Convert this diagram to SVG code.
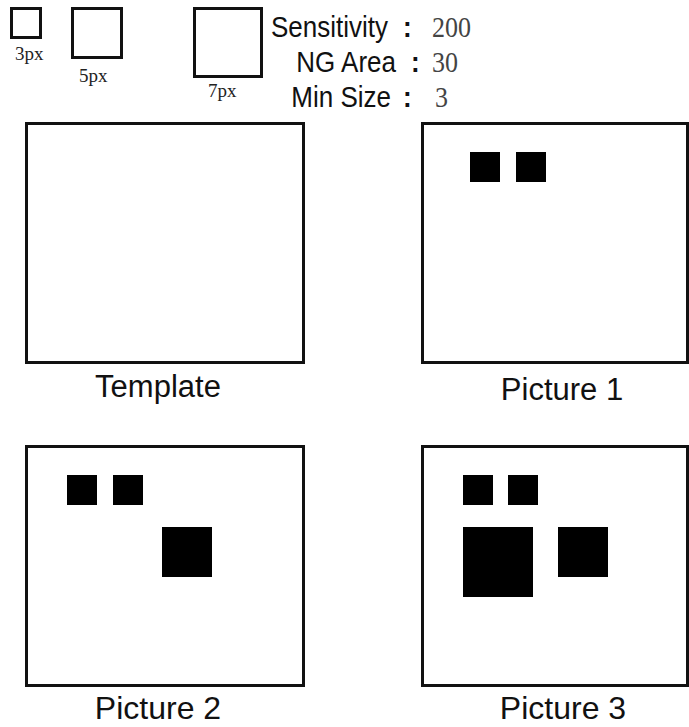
<svg xmlns="http://www.w3.org/2000/svg" width="689" height="727" viewBox="0 0 689 727">
  <style>
    .frame { fill: #fff; stroke: #111; stroke-width: 3; }
    .legend-box { fill: #fff; stroke: #111; stroke-width: 3; }
    .blob { fill: #000; }
    .size-label { font-family: "Liberation Serif", "Times New Roman", serif; font-size: 19px; fill: #222; }
    .param-name { font-family: "Liberation Sans", Arial, sans-serif; font-size: 26px; fill: #111; text-anchor: end; }
    .param-colon { font-family: "Liberation Sans", Arial, sans-serif; font-size: 26px; font-weight: bold; fill: #111; }
    .param-value { font-family: "Liberation Serif", "Times New Roman", serif; font-size: 26px; fill: #444; }
    .caption { font-family: "Liberation Sans", Arial, sans-serif; fill: #111; text-anchor: middle; }
  </style>

  <rect width="689" height="727" fill="#fff"/>

  <!-- size legend -->
  <g id="legend-3px">
    <rect class="legend-box" x="11.5" y="8.5" width="29" height="29"/>
    <text class="size-label" x="15" y="60">3px</text>
  </g>
  <g id="legend-5px">
    <rect class="legend-box" x="72.5" y="8.5" width="49" height="49"/>
    <text class="size-label" x="79" y="82">5px</text>
  </g>
  <g id="legend-7px">
    <rect class="legend-box" x="194.5" y="8.5" width="67" height="68"/>
    <text class="size-label" x="208" y="97">7px</text>
  </g>

  <!-- detection parameters -->
  <g id="parameters">
    <text class="param-name" transform="translate(388,37) scale(1,1.15)">Sensitivity</text>
    <text class="param-colon" transform="translate(403,37) scale(1,1.15)">:</text>
    <text class="param-value" transform="translate(432,37) scale(1,1.15)">200</text>

    <text class="param-name" transform="translate(396,72) scale(1,1.15)">NG Area</text>
    <text class="param-colon" transform="translate(411,72) scale(1,1.15)">:</text>
    <text class="param-value" transform="translate(432,72) scale(1,1.15)">30</text>

    <text class="param-name" transform="translate(391,107) scale(1,1.15)">Min Size</text>
    <text class="param-colon" transform="translate(403,107) scale(1,1.15)">:</text>
    <text class="param-value" transform="translate(435,107) scale(1,1.15)">3</text>
  </g>

  <!-- reference image -->
  <g id="template">
    <rect class="frame" x="26.5" y="123.5" width="277" height="239"/>
    <text class="caption" x="158" y="397" font-size="31">Template</text>
  </g>

  <g id="picture-1">
    <rect class="frame" x="422.5" y="123.5" width="265" height="239"/>
    <rect class="blob" x="470" y="152" width="30" height="30"/>
    <rect class="blob" x="516" y="152" width="30" height="30"/>
    <text class="caption" x="562" y="400" font-size="31">Picture 1</text>
  </g>

  <g id="picture-2">
    <rect class="frame" x="26.5" y="446.5" width="277" height="239"/>
    <rect class="blob" x="67" y="475" width="30" height="30"/>
    <rect class="blob" x="113" y="475" width="30" height="30"/>
    <rect class="blob" x="162" y="527" width="50" height="50"/>
    <text class="caption" x="158" y="719" font-size="32">Picture 2</text>
  </g>

  <g id="picture-3">
    <rect class="frame" x="422.5" y="446.5" width="265" height="239"/>
    <rect class="blob" x="463" y="475" width="30" height="30"/>
    <rect class="blob" x="508" y="475" width="30" height="30"/>
    <rect class="blob" x="463" y="527" width="70" height="70"/>
    <rect class="blob" x="558" y="527" width="50" height="50"/>
    <text class="caption" x="563" y="719" font-size="32">Picture 3</text>
  </g>

  <g id="connectors"/>
</svg>
